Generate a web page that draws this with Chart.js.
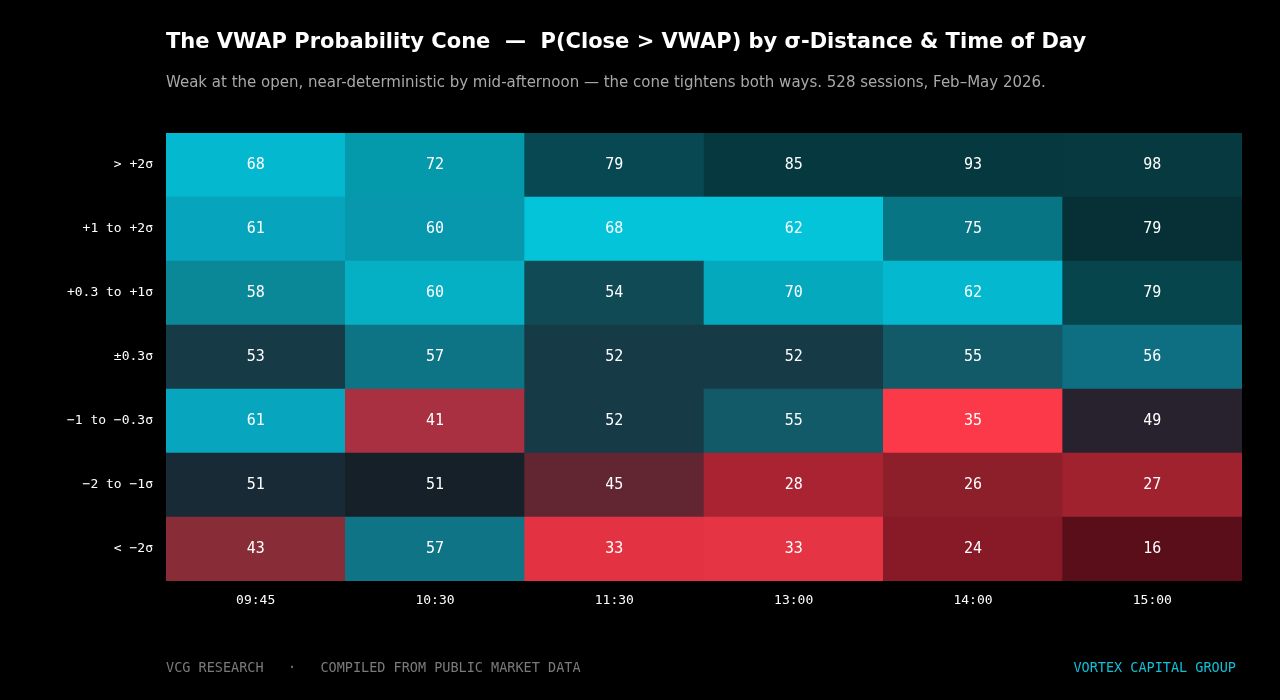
<!DOCTYPE html>
<html>
<head>
<meta charset="utf-8">
<script src="https://cdn.jsdelivr.net/npm/chart.js@4"></script>
<style>
  body { margin:0; background:#000; width:1280px; height:700px; overflow:hidden; position:relative; font-family:"DejaVu Sans", sans-serif; }
  #wrap { position:absolute; left:0; top:0; width:1280px; height:700px; }
  .t { position:absolute; white-space:nowrap; }
  #title { left:166px; top:29px; color:#fff; font-size:21px; font-weight:bold; }
  #sub { left:166px; top:73px; color:#a8a8a8; font-size:15px; }
  .foot { top:659px; font-family:"DejaVu Sans Mono", monospace; font-size:13.5px; }
</style>
</head>
<body>
<div id="wrap"><canvas id="c" width="1280" height="700"></canvas></div>
<div class="t" id="title">The VWAP Probability Cone &nbsp;—&nbsp; P(Close &gt; VWAP) by σ-Distance &amp; Time of Day</div>
<div class="t" id="sub">Weak at the open, near-deterministic by mid-afternoon — the cone tightens both ways. 528 sessions, Feb–May 2026.</div>
<div class="t foot" style="left:166px;color:#7a7a7a">VCG RESEARCH &nbsp; · &nbsp; COMPILED FROM PUBLIC MARKET DATA</div>
<div class="t foot" style="right:44px;color:#12bfd6">VORTEX CAPITAL GROUP</div>
<script>
// top row first
const times = ['09:45', '10:30', '11:30', '13:00', '14:00', '15:00'];
const rows = ['> +2σ', '+1 to +2σ', '+0.3 to +1σ', '±0.3σ', '−1 to −0.3σ', '−2 to −1σ', '< −2σ'];
const probs = [
  [68, 72, 79, 85, 93, 98],
  [61, 60, 68, 62, 75, 79],
  [58, 60, 54, 70, 62, 79],
  [53, 57, 52, 52, 55, 56],
  [61, 41, 52, 55, 35, 49],
  [51, 51, 45, 28, 26, 27],
  [43, 57, 33, 33, 24, 16]
];
const cellColors = [
  ['#04b8d0', '#0499ab', '#074853', '#06393f', '#06393f', '#063a40'],
  ['#06a5bd', '#0898ae', '#04c4d9', '#04c4d9', '#087584', '#063035'],
  ['#0a8898', '#05b0c5', '#0f4a55', '#05a9bd', '#04b8d0', '#06454c'],
  ['#173a47', '#0d7486', '#173a47', '#173a47', '#125a68', '#0f6f82'],
  ['#07a6be', '#a83040', '#173a47', '#125a68', '#fc3948', '#28222e'],
  ['#172a35', '#152028', '#622633', '#a92332', '#8c1f2a', '#a1222f'],
  ['#882d38', '#0f7486', '#e33342', '#e53444', '#871a26', '#5a0e1a']
];

// stacked bars: first dataset sits at the bottom, so feed rows bottom-up
const datasets = rows.map((r, i) => {
  const k = rows.length - 1 - i;
  return {
    label: rows[k],
    data: times.map(() => 1),
    probs: probs[k],
    backgroundColor: cellColors[k],
    barPercentage: 1,
    categoryPercentage: 1,
    borderWidth: 0
  };
});

const cellText = {
  id: 'cellText',
  afterDatasetsDraw(chart) {
    const ctx = chart.ctx;
    ctx.save();
    ctx.font = '15px "DejaVu Sans Mono", monospace';
    ctx.fillStyle = '#fff';
    ctx.textAlign = 'center';
    ctx.textBaseline = 'middle';
    chart.data.datasets.forEach((ds, i) => {
      chart.getDatasetMeta(i).data.forEach((el, j) => {
        ctx.fillText(ds.probs[j], el.x, (el.y + el.base) / 2);
      });
    });
    ctx.restore();
  }
};

new Chart(document.getElementById('c'), {
  type: 'bar',
  data: { labels: times, datasets },
  plugins: [cellText],
  options: {
    responsive: false,
    animation: false,
    layout: { padding: { left: 0, right: 38, top: 133, bottom: 89 } },
    plugins: { legend: { display: false }, tooltip: { enabled: false } },
    scales: {
      x: {
        stacked: true,
        grid: { display: false },
        border: { display: false },
        ticks: { color: '#fff', font: { family: 'DejaVu Sans Mono', size: 13 }, padding: 4 },
        afterFit: s => { s.height = 30; }
      },
      y: {
        stacked: true,
        min: 0, max: 7,
        grid: { display: false },
        border: { display: false },
        afterBuildTicks: s => { s.ticks = rows.map((_, i) => ({ value: i + 0.5 })); },
        ticks: {
          color: '#fff',
          font: { family: 'DejaVu Sans Mono', size: 13 },
          padding: 5,
          callback: v => rows[rows.length - 1 - Math.floor(v)]
        },
        afterFit: s => { s.width = 166; }
      }
    }
  }
});
</script>
</body>
</html>
